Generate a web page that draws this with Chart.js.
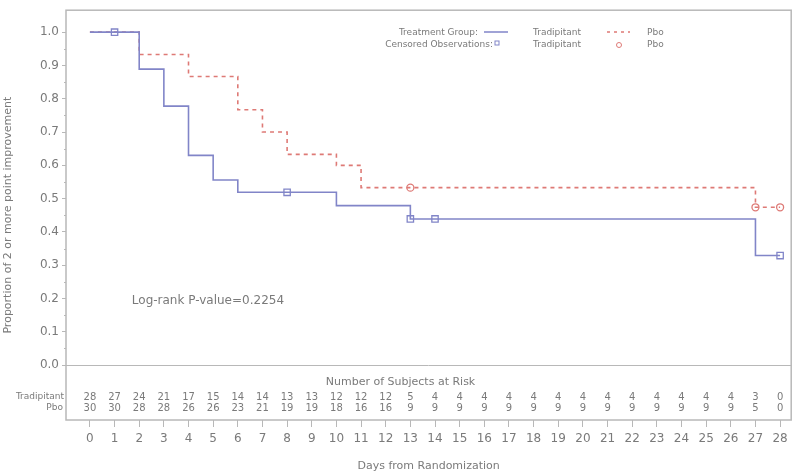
<!DOCTYPE html>
<html>
<head>
<meta charset="utf-8">
<script src="https://cdn.jsdelivr.net/npm/chart.js@4.4.1/dist/chart.umd.min.js"></script>
<style>
  body { margin: 0; background: #fff; }
  canvas { display: block; }
</style>
</head>
<body>
<canvas id="kmChart" width="797" height="475"></canvas>
<script>
"use strict";

// Kaplan-Meier steg (dag, andel)
const tradiDays = [0, 2, 3, 4, 5, 6, 10, 13, 27, 28];
const tradiProp = [1.0, 0.889, 0.778, 0.630, 0.556, 0.519, 0.479, 0.439, 0.329, 0.329];
const pboDays = [0, 2, 4, 6, 7, 8, 10, 11, 27, 28];
const pboProp = [1.0, 0.933, 0.867, 0.767, 0.700, 0.633, 0.600, 0.533, 0.474, 0.474];

// Censurerade observationer
const tradiCensDays = [1, 8, 13, 14, 28];
const tradiCensProp = [1.0, 0.519, 0.439, 0.439, 0.329];
const pboCensDays = [13, 27, 28];
const pboCensProp = [0.533, 0.474, 0.474];

// Antal i risk per dag
const riskDays = [0, 1, 2, 3, 4, 5, 6, 7, 8, 9, 10, 11, 12, 13, 14, 15, 16, 17, 18, 19, 20, 21, 22, 23, 24, 25, 26, 27, 28];
const tradiRisk = [28, 27, 24, 21, 17, 15, 14, 14, 13, 13, 12, 12, 12, 5, 4, 4, 4, 4, 4, 4, 4, 4, 4, 4, 4, 4, 4, 3, 0];
const pboRisk = [30, 30, 28, 28, 26, 26, 23, 21, 19, 19, 18, 16, 16, 9, 9, 9, 9, 9, 9, 9, 9, 9, 9, 9, 9, 9, 9, 5, 0];

const yTicks = [0, 0.1, 0.2, 0.3, 0.4, 0.5, 0.6, 0.7, 0.8, 0.9, 1.0];

const blue = '#8185c8';
const red = '#de7a76';
const textGray = '#7a7a7a';
const frameGray = '#b8b8b8';
const font = '"DejaVu Sans", sans-serif';

const toPoints = (xs, ys) => xs.map((x, i) => ({ x: x, y: ys[i] }));

// Ram, nollinje, risktabell, legend och text
const extras = {
    id: 'extras',
    afterDraw(chart) {
        const c = chart.ctx;
        const a = chart.chartArea;
        const xs = chart.scales.x;
        const ys = chart.scales.y;
        c.save();

        // ram
        c.strokeStyle = frameGray;
        c.lineWidth = 1.5;
        c.strokeRect(a.left, a.top, a.right - a.left, a.bottom - a.top);

        // nollinje
        const y0 = Math.round(ys.getPixelForValue(0)) + 0.5;
        c.lineWidth = 1;
        c.beginPath();
        c.moveTo(a.left, y0);
        c.lineTo(a.right, y0);
        c.stroke();

        // små streck mellan y-ticks
        for (let v = 0.05; v < 1; v += 0.1) {
            const py = Math.round(ys.getPixelForValue(v)) + 0.5;
            c.beginPath();
            c.moveTo(a.left - 2, py);
            c.lineTo(a.left, py);
            c.stroke();
        }

        c.fillStyle = textGray;
        c.font = '11px ' + font;
        c.textBaseline = 'middle';

        // risktabell
        c.textAlign = 'center';
        c.fillText('Number of Subjects at Risk', xs.getPixelForValue(12.6), a.bottom - 38);
        c.font = '10px ' + font;
        riskDays.forEach((d, i) => {
            const px = xs.getPixelForValue(d);
            c.fillText(String(tradiRisk[i]), px, a.bottom - 23);
            c.fillText(String(pboRisk[i]), px, a.bottom - 12);
        });
        c.font = '9px ' + font;
        c.textAlign = 'right';
        c.fillText('Tradipitant', a.left - 2, a.bottom - 23);
        c.fillText('Pbo', a.left - 3, a.bottom - 12);

        // log-rank text
        c.font = '12px ' + font;
        c.textAlign = 'left';
        c.fillText('Log-rank P-value=0.2254', xs.getPixelForValue(1.7), ys.getPixelForValue(0.192));

        // legend
        c.font = '9px ' + font;
        c.textAlign = 'right';
        c.fillText('Treatment Group:', 478, 33);
        c.fillText('Censored Observations:', 493, 45);
        c.textAlign = 'left';
        c.fillText('Tradipitant', 533, 33);
        c.fillText('Tradipitant', 533, 45);
        c.fillText('Pbo', 647, 33);
        c.fillText('Pbo', 647, 45);

        c.lineWidth = 1.5;
        c.strokeStyle = blue;
        c.beginPath();
        c.moveTo(484, 32);
        c.lineTo(508, 32);
        c.stroke();
        c.lineWidth = 1;
        c.strokeRect(495, 41, 4, 4);

        c.strokeStyle = red;
        c.lineWidth = 1.5;
        c.setLineDash([3, 4]);
        c.beginPath();
        c.moveTo(607, 32);
        c.lineTo(630, 32);
        c.stroke();
        c.setLineDash([]);
        c.lineWidth = 1;
        c.beginPath();
        c.arc(619, 45, 2.5, 0, Math.PI * 2);
        c.stroke();

        c.restore();
    }
};

new Chart(document.getElementById('kmChart'), {
    type: 'line',
    data: {
        datasets: [
            {
                label: 'Tradipitant',
                data: toPoints(tradiDays, tradiProp),
                stepped: true,
                borderColor: blue,
                borderWidth: 1.6,
                pointRadius: 0,
                order: 2
            },
            {
                label: 'Pbo',
                data: toPoints(pboDays, pboProp),
                stepped: true,
                borderColor: red,
                borderWidth: 1.6,
                borderDash: [4, 4],
                pointRadius: 0,
                order: 2
            },
            {
                label: 'Tradipitant censored',
                data: toPoints(tradiCensDays, tradiCensProp),
                showLine: false,
                pointStyle: 'rect',
                pointRadius: 4.5,
                pointBorderWidth: 1.3,
                pointBorderColor: blue,
                pointBackgroundColor: 'rgba(255,255,255,0)',
                order: 1
            },
            {
                label: 'Pbo censored',
                data: toPoints(pboCensDays, pboCensProp),
                showLine: false,
                pointStyle: 'circle',
                pointRadius: 3.5,
                pointBorderWidth: 1.3,
                pointBorderColor: red,
                pointBackgroundColor: 'rgba(255,255,255,0)',
                order: 1
            }
        ]
    },
    options: {
        responsive: false,
        animation: false,
        layout: { padding: { top: 10, right: 5, left: 0, bottom: 0 } },
        plugins: {
            legend: { display: false },
            tooltip: { enabled: false }
        },
        scales: {
            x: {
                type: 'linear',
                min: -0.97,
                max: 28.45,
                afterBuildTicks: (scale) => {
                    scale.ticks = riskDays.map(d => ({ value: d }));
                },
                afterFit: (scale) => { scale.height = 55; },
                border: { display: false },
                grid: {
                    drawOnChartArea: false,
                    tickLength: 7,
                    tickColor: frameGray
                },
                ticks: {
                    autoSkip: false,
                    maxRotation: 0,
                    padding: 5,
                    color: textGray,
                    font: { family: font, size: 12 },
                    callback: (v) => String(v)
                },
                title: {
                    display: true,
                    text: 'Days from Randomization',
                    color: textGray,
                    font: { family: font, size: 11 },
                    padding: { top: 0, bottom: 2 }
                }
            },
            y: {
                type: 'linear',
                min: -0.165,
                max: 1.066,
                afterBuildTicks: (scale) => {
                    scale.ticks = yTicks.map(v => ({ value: v }));
                },
                afterFit: (scale) => { scale.width = 66; },
                border: { display: false },
                grid: {
                    drawOnChartArea: false,
                    tickLength: 4,
                    tickColor: frameGray
                },
                ticks: {
                    autoSkip: false,
                    padding: 3,
                    color: textGray,
                    font: { family: font, size: 12 },
                    callback: (v) => Number(v).toFixed(1)
                },
                title: {
                    display: true,
                    text: 'Proportion of 2 or more point improvement',
                    color: textGray,
                    font: { family: font, size: 11 },
                    padding: { top: 2, bottom: 2 }
                }
            }
        }
    },
    plugins: [extras]
});
</script>
</body>
</html>
